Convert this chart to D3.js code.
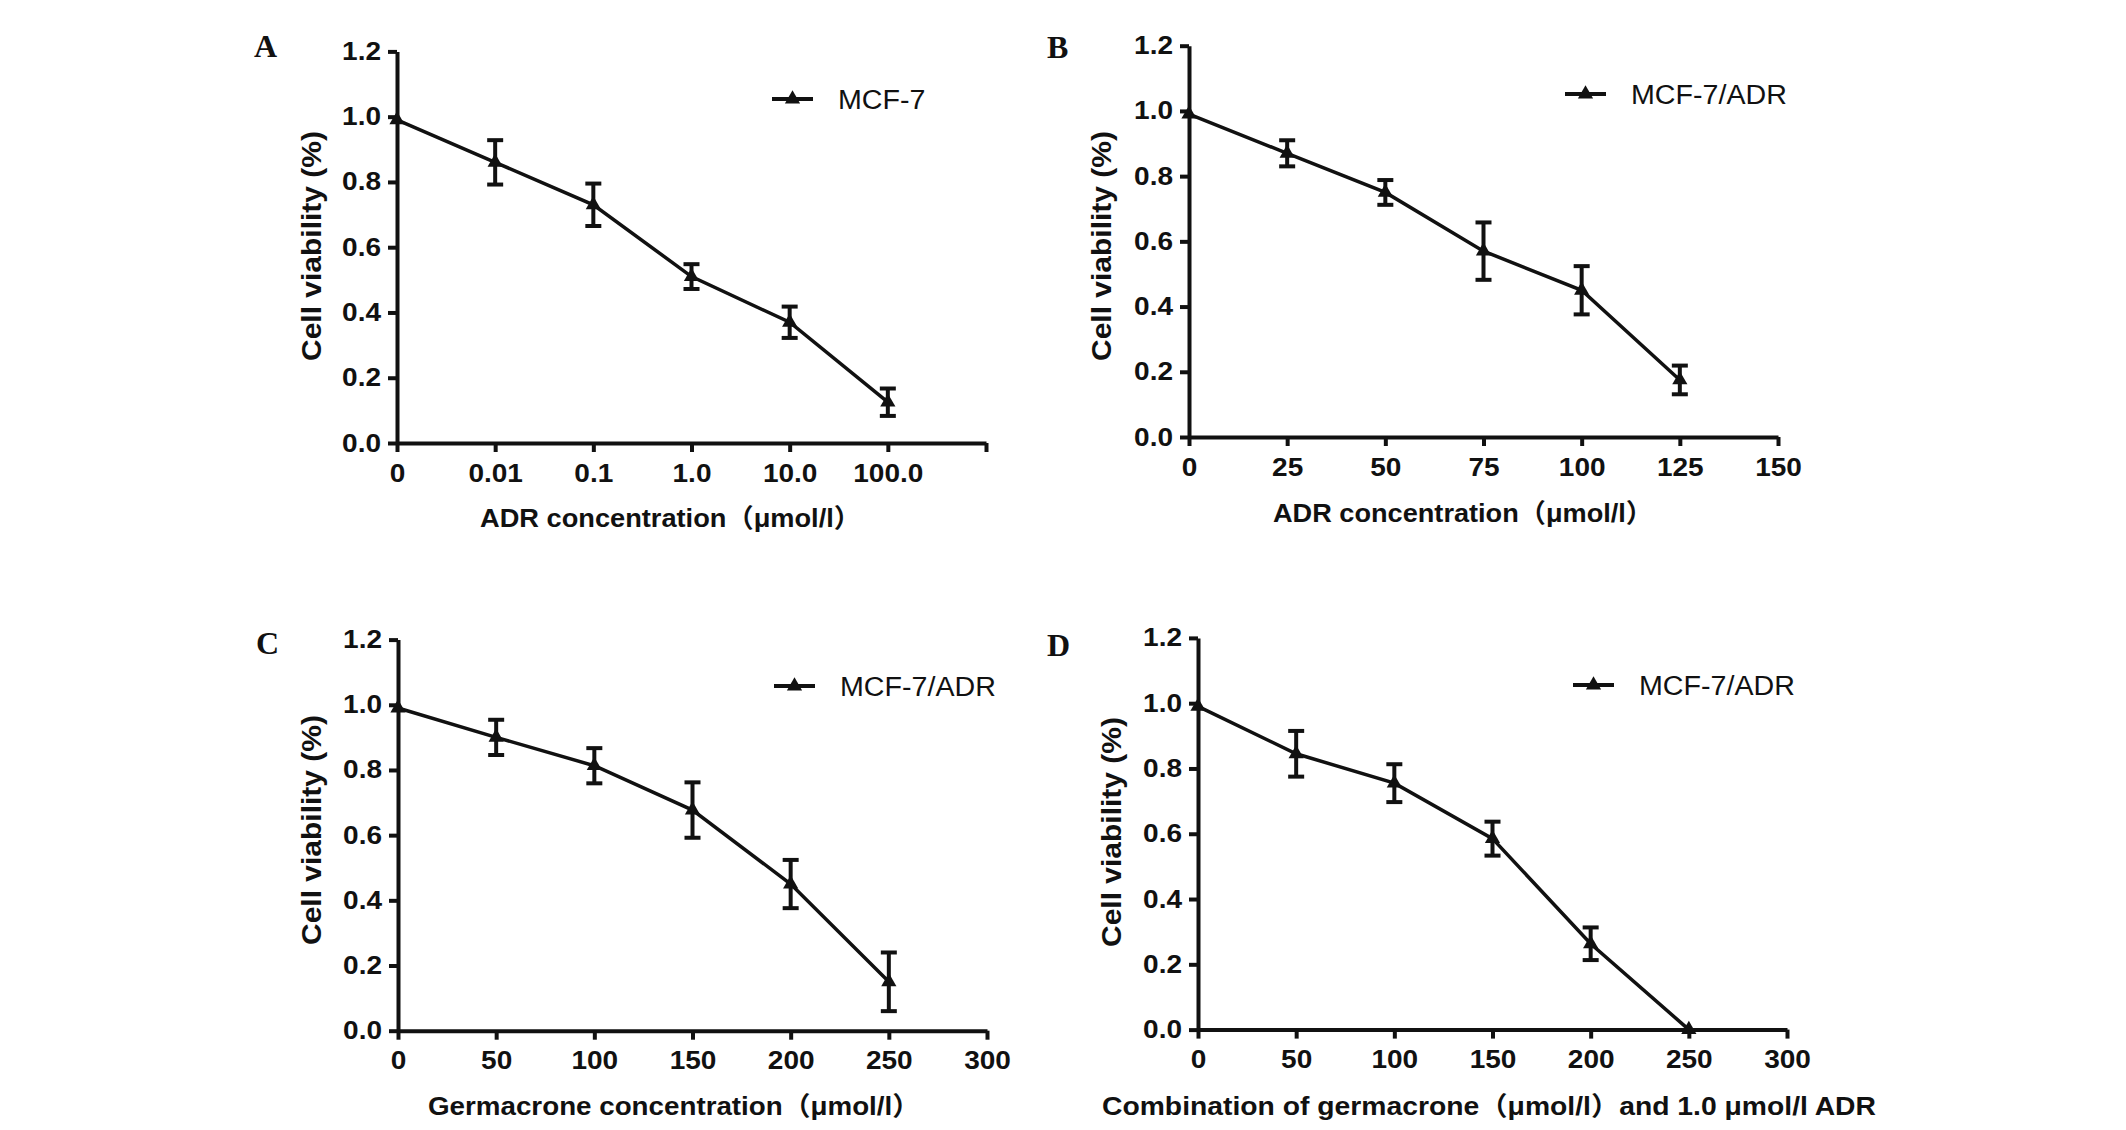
<!DOCTYPE html>
<html>
<head>
<meta charset="utf-8">
<script src="https://cdn.jsdelivr.net/npm/d3@7"></script>
<style>
  html, body { margin: 0; padding: 0; background: #fff; }
  svg { display: block; }
</style>
</head>
<body>
<svg id="chart" width="2126" height="1130"></svg>
<script>
// panel A: ADR on MCF-7 (categorical doses)
const dosesA = ["0", "0.01", "0.1", "1.0", "10.0", "100.0", ""];
const viabA = [0.99, 0.86, 0.73, 0.51, 0.37, 0.125];
const errA = [0, 0.068, 0.065, 0.038, 0.048, 0.042];

// panel B: ADR on MCF-7/ADR
const dosesB = [0, 25, 50, 75, 100, 125];
const viabB = [0.99, 0.87, 0.75, 0.57, 0.45, 0.175];
const errB = [0, 0.04, 0.038, 0.088, 0.074, 0.044];
const ticksB = [0, 25, 50, 75, 100, 125, 150];

// panel C: germacrone on MCF-7/ADR
const dosesC = [0, 50, 100, 150, 200, 250];
const viabC = [0.99, 0.90, 0.813, 0.677, 0.45, 0.15];
const errC = [0, 0.054, 0.054, 0.085, 0.074, 0.09];

// panel D: germacrone + 1.0 umol/l ADR on MCF-7/ADR
const dosesD = [0, 50, 100, 150, 200, 250];
const viabD = [0.99, 0.845, 0.755, 0.585, 0.263, 0.0];
const errD = [0, 0.07, 0.058, 0.052, 0.05, 0];
const ticksCD = [0, 50, 100, 150, 200, 250, 300];

const yTicks = [0, 0.2, 0.4, 0.6, 0.8, 1.0, 1.2];

const SANS = "'Liberation Sans', Arial, 'Noto Sans CJK SC', sans-serif";
const SERIF = "'Liberation Serif', 'Times New Roman', serif";
const INK = "#111";

const panels = [
  {
    letter: "A", legend: "MCF-7", kind: "point",
    xs: d3.range(viabA.length), ys: viabA, es: errA,
    frame: { left: 397, top: 51.4, width: 589, height: 391.6 },
    letterPos: [254, 57], legendPos: [772, 99],
    xTitle: "ADR concentration（μmol/l）", xTitlePos: [480, 527, 381],
    yTitlePos: [311, 246]
  },
  {
    letter: "B", legend: "MCF-7/ADR", kind: "linear", domain: [0, 150], ticks: ticksB,
    xs: dosesB, ys: viabB, es: errB,
    frame: { left: 1189, top: 45.7, width: 589, height: 391.3 },
    letterPos: [1047, 57.5], legendPos: [1565, 94],
    xTitle: "ADR concentration（μmol/l）", xTitlePos: [1273, 522, 380],
    yTitlePos: [1101, 246]
  },
  {
    letter: "C", legend: "MCF-7/ADR", kind: "linear", domain: [0, 300], ticks: ticksCD,
    xs: dosesC, ys: viabC, es: errC,
    frame: { left: 398, top: 639.6, width: 589, height: 391.1 },
    letterPos: [256, 654], legendPos: [774, 686],
    xTitle: "Germacrone concentration（μmol/l）", xTitlePos: [428, 1115, 492],
    yTitlePos: [311, 830]
  },
  {
    letter: "D", legend: "MCF-7/ADR", kind: "linear", domain: [0, 300], ticks: ticksCD,
    xs: dosesD, ys: viabD, es: errD,
    frame: { left: 1198, top: 637.9, width: 589, height: 391.7 },
    letterPos: [1047, 656], legendPos: [1573, 685],
    xTitle: "Combination of germacrone（μmol/l）and 1.0 μmol/l  ADR", xTitlePos: [1102, 1115, 774],
    yTitlePos: [1111, 832]
  }
];

const svg = d3.select("#chart");
const tri = d3.symbol().type(d3.symbolTriangle).size(100);

// the source figure is slightly stretched sideways, widen text to match
const widen = (sel, k) => sel.each(function () {
  const w = this.getComputedTextLength();
  if (w > 0) d3.select(this).attr("textLength", w * k).attr("lengthAdjust", "spacingAndGlyphs");
});

panels.forEach((p) => {
  const f = p.frame;
  const g = svg.append("g").attr("transform", `translate(${f.left},${f.top})`);

  let x, xAxis;
  if (p.kind === "point") {
    x = d3.scalePoint().domain(d3.range(dosesA.length)).range([0, f.width]);
    xAxis = d3.axisBottom(x).tickFormat((i) => dosesA[i]);
  } else {
    x = d3.scaleLinear().domain(p.domain).range([0, f.width]);
    xAxis = d3.axisBottom(x).tickValues(p.ticks).tickFormat(d3.format("d"));
  }
  const y = d3.scaleLinear().domain([0, 1.2]).range([f.height, 0]);

  const styleAxis = (sel) => {
    sel.selectAll("path.domain").attr("stroke", INK).attr("stroke-width", 4);
    sel.selectAll(".tick line").attr("stroke", INK).attr("stroke-width", 4);
    sel.selectAll(".tick text")
      .attr("fill", INK)
      .attr("font-family", SANS)
      .attr("font-weight", "bold")
      .attr("font-size", "25px")
      .call(widen, 1.12);
  };

  g.append("g")
    .attr("transform", `translate(0,${f.height})`)
    .call(xAxis.tickSizeInner(9).tickSizeOuter(0).tickPadding(12))
    .call(styleAxis);

  g.append("g")
    .call(d3.axisLeft(y).tickValues(yTicks).tickFormat(d3.format(".1f"))
      .tickSizeInner(9).tickSizeOuter(0).tickPadding(7))
    .call(styleAxis);

  const pts = p.ys.map((v, i) => ({ x: p.xs[i], v, e: p.es[i] }));

  g.append("path")
    .datum(pts)
    .attr("fill", "none")
    .attr("stroke", INK)
    .attr("stroke-width", 3.5)
    .attr("d", d3.line().x((d) => x(d.x)).y((d) => y(d.v)));

  const bars = g.selectAll("g.err")
    .data(pts.filter((d) => d.e > 0))
    .join("g")
    .attr("class", "err")
    .attr("stroke", INK)
    .attr("stroke-width", 4);
  bars.append("line")
    .attr("x1", (d) => x(d.x)).attr("x2", (d) => x(d.x))
    .attr("y1", (d) => y(d.v + d.e)).attr("y2", (d) => y(d.v - d.e));
  bars.append("line")
    .attr("x1", (d) => x(d.x) - 8).attr("x2", (d) => x(d.x) + 8)
    .attr("y1", (d) => y(d.v + d.e)).attr("y2", (d) => y(d.v + d.e));
  bars.append("line")
    .attr("x1", (d) => x(d.x) - 8).attr("x2", (d) => x(d.x) + 8)
    .attr("y1", (d) => y(d.v - d.e)).attr("y2", (d) => y(d.v - d.e));

  g.selectAll("path.marker")
    .data(pts)
    .join("path")
    .attr("class", "marker")
    .attr("transform", (d) => `translate(${x(d.x)},${y(d.v)})`)
    .attr("d", tri)
    .attr("fill", INK);

  // panel letter
  svg.append("text")
    .attr("x", p.letterPos[0]).attr("y", p.letterPos[1])
    .attr("font-family", SERIF).attr("font-weight", "bold").attr("font-size", "32px")
    .attr("fill", INK)
    .text(p.letter);

  // legend
  const [lx, ly] = p.legendPos;
  svg.append("line")
    .attr("x1", lx).attr("x2", lx + 41).attr("y1", ly).attr("y2", ly)
    .attr("stroke", INK).attr("stroke-width", 4);
  svg.append("path")
    .attr("transform", `translate(${lx + 20.5},${ly})`)
    .attr("d", tri).attr("fill", INK);
  svg.append("text")
    .attr("x", lx + 66).attr("y", ly).attr("dy", "0.36em")
    .attr("font-family", SANS).attr("font-size", "27px").attr("fill", INK)
    .text(p.legend)
    .call(widen, 1.06);

  // axis titles
  const [tx, ty, tw] = p.xTitlePos;
  svg.append("text")
    .attr("x", tx).attr("y", ty)
    .attr("textLength", tw).attr("lengthAdjust", "spacingAndGlyphs")
    .attr("font-family", SANS).attr("font-weight", "bold").attr("font-size", "26px")
    .attr("fill", INK)
    .text(p.xTitle);

  svg.append("text")
    .attr("transform", `translate(${p.yTitlePos[0]},${p.yTitlePos[1]}) rotate(-90)`)
    .attr("text-anchor", "middle").attr("dy", "0.36em")
    .attr("textLength", 230).attr("lengthAdjust", "spacingAndGlyphs")
    .attr("font-family", SANS).attr("font-weight", "bold").attr("font-size", "28px")
    .attr("fill", INK)
    .text("Cell viability (%)");
});
</script>
</body>
</html>
